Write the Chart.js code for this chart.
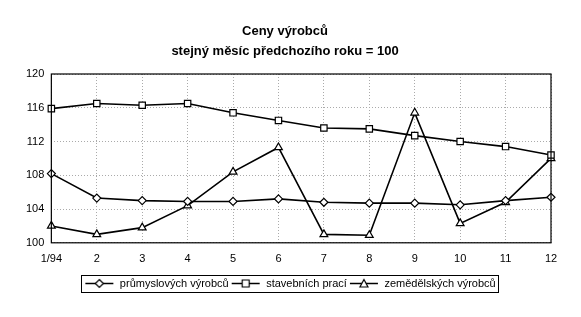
<!DOCTYPE html>
<html>
<head>
<meta charset="utf-8">
<script src="https://cdn.jsdelivr.net/npm/chart.js@4.4.1/dist/chart.umd.min.js"></script>
<style>
  html, body { margin: 0; padding: 0; background: #fff; }
  #wrap { width: 581px; height: 317px; }
</style>
</head>
<body>
<div id="wrap"><canvas id="chart" width="581" height="317"></canvas></div>
<script>
// Ceny výrobců - index, stejný měsíc předchozího roku = 100
const months = ['1/94', '2', '3', '4', '5', '6', '7', '8', '9', '10', '11', '12'];
const prumyslove = [108.2, 105.3, 105.0, 104.9, 104.9, 105.2, 104.8, 104.7, 104.7, 104.5, 105.0, 105.4];
const stavebni = [115.9, 116.5, 116.3, 116.5, 115.4, 114.5, 113.6, 113.5, 112.7, 112.0, 111.4, 110.4];
const zemedelske = [102.0, 101.0, 101.8, 104.4, 108.4, 111.3, 101.0, 100.9, 115.4, 102.3, 104.8, 110.0];
const seriesNames = ['průmyslových výrobců', 'stavebních prací', 'zemědělských výrobců'];
const titleLines = ['Ceny výrobců', 'stejný měsíc předchozího roku = 100'];

const FONT = "'Liberation Sans', Arial, sans-serif";

// small legend icon: line with the marker in the middle
function legendIcon(style) {
    const c = document.createElement('canvas');
    c.width = 30; c.height = 11;
    const ctx = c.getContext('2d');
    ctx.strokeStyle = '#000';
    ctx.lineWidth = 1.5;
    ctx.beginPath(); ctx.moveTo(1, 5.5); ctx.lineTo(29, 5.5); ctx.stroke();
    ctx.fillStyle = '#fff';
    ctx.lineWidth = 1.2;
    ctx.beginPath();
    if (style === 'rectRot') {
        ctx.moveTo(15, 1.5); ctx.lineTo(19, 5.5); ctx.lineTo(15, 9.5); ctx.lineTo(11, 5.5);
    } else if (style === 'rect') {
        ctx.rect(11.5, 2, 7, 7);
    } else {
        ctx.moveTo(15, 1.5); ctx.lineTo(19, 9); ctx.lineTo(11, 9);
    }
    ctx.closePath(); ctx.fill(); ctx.stroke();
    return c;
}

function makeSet(label, data, style, radius) {
    return {
        label: label,
        data: data,
        borderColor: '#000',
        borderWidth: 1.6,
        pointStyle: style,
        pointRadius: radius,
        pointBackgroundColor: '#fff',
        pointBorderColor: '#000',
        pointBorderWidth: 1.2,
        tension: 0,
        fill: false
    };
}

// frame around plot area and around the legend
const framePlugin = {
    id: 'frames',
    afterLayout(chart) {
        // legend is centred on the whole page in the original, not on the padded area
        chart.legend.left += 5;
        chart.legend.right += 5;
    },
    afterDraw(chart) {
        const ctx = chart.ctx;
        const a = chart.chartArea;
        ctx.save();
        ctx.strokeStyle = '#000';
        ctx.lineWidth = 1.2;
        ctx.strokeRect(a.left, a.top, a.right - a.left, a.bottom - a.top);
        const boxes = chart.legend.legendHitBoxes;
        if (boxes && boxes.length) {
            const l = Math.min(...boxes.map(b => b.left)) - 3;
            const r = Math.max(...boxes.map(b => b.left + b.width)) + 3;
            const t = Math.min(...boxes.map(b => b.top)) - 3;
            const btm = Math.max(...boxes.map(b => b.top + b.height)) + 3;
            ctx.lineWidth = 1;
            ctx.strokeRect(Math.round(l) + 0.5, Math.round(t) + 0.5, Math.round(r - l), Math.round(btm - t));
        }
        ctx.restore();
    }
};

new Chart(document.getElementById('chart'), {
    type: 'line',
    data: {
        labels: months,
        datasets: [
            makeSet(seriesNames[0], prumyslove, 'rectRot', 4),
            makeSet(seriesNames[1], stavebni, 'rect', 4.5),
            makeSet(seriesNames[2], zemedelske, 'triangle', 4.5)
        ]
    },
    options: {
        responsive: false,
        animation: false,
        layout: { padding: { top: 22, left: 19, right: 30, bottom: 18 } },
        plugins: {
            title: {
                display: true,
                text: titleLines,
                color: '#000',
                font: { family: FONT, size: 13, weight: 'bold', lineHeight: 1.5 },
                padding: { top: 0, bottom: 13 }
            },
            legend: {
                position: 'bottom',
                labels: {
                    color: '#000',
                    font: { family: FONT, size: 11 },
                    usePointStyle: true,
                    pointStyleWidth: 30,
                    padding: 2,
                    generateLabels(chart) {
                        return chart.data.datasets.map((ds, i) => ({
                            text: ds.label,
                            pointStyle: legendIcon(ds.pointStyle),
                            fillStyle: '#fff',
                            strokeStyle: '#000',
                            lineWidth: 0,
                            datasetIndex: i
                        }));
                    }
                }
            },
            tooltip: { enabled: false }
        },
        scales: {
            x: {
                offset: false,
                grid: { color: '#aaa', drawTicks: false },
                border: { display: false, dash: [1, 2] },
                ticks: { color: '#000', font: { family: FONT, size: 11 }, padding: 10, maxRotation: 0 }
            },
            y: {
                min: 100,
                max: 120,
                ticks: { stepSize: 4, color: '#000', font: { family: FONT, size: 11 }, padding: 7 },
                grid: { color: '#aaa', drawTicks: false },
                border: { display: false, dash: [1, 2] }
            }
        }
    },
    plugins: [framePlugin]
});
</script>
</body>
</html>
